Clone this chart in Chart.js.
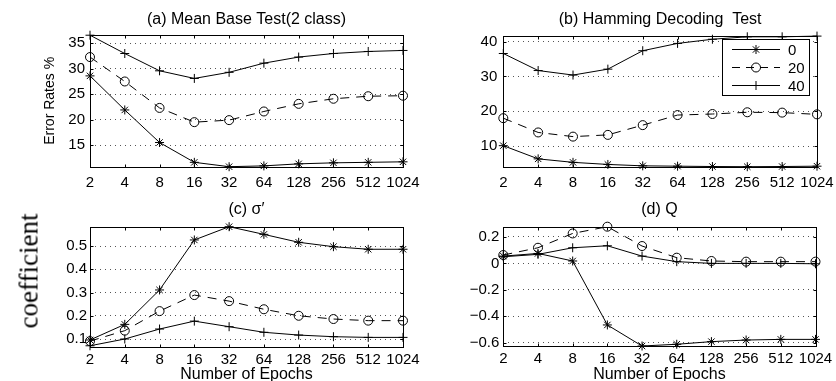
<!DOCTYPE html>
<html>
<head>
<meta charset="utf-8">
<script src="https://cdn.jsdelivr.net/npm/chart.js@4.4.0/dist/chart.umd.min.js"></script>
<style>
  html, body { margin: 0; padding: 0; background: #fff; overflow: hidden; }
  #fig { position: relative; width: 836px; height: 381px; overflow: hidden; }
  #fig canvas { position: absolute; }
  #coef {
    position: absolute; left: 29px; top: 271px;
    transform: translate(-50%, -50%) rotate(-90deg);
    font: 27px "Liberation Serif", "Times New Roman", serif;
    line-height: 1; white-space: nowrap; color: #000;
  }
</style>
</head>
<body>
<div id="fig">
  <canvas id="chartA" width="420" height="190" style="left:0;top:0"></canvas>
  <canvas id="chartB" width="420" height="190" style="left:416px;top:0"></canvas>
  <canvas id="chartC" width="420" height="194" style="left:0;top:190px"></canvas>
  <canvas id="chartD" width="420" height="194" style="left:416px;top:190px"></canvas>
  <div id="coef">coefficient</div>
</div>
<script>
const epochs = ["2", "4", "8", "16", "32", "64", "128", "256", "512", "1024"];
const noiseLevels = ["0", "20", "40"];

// (a) Mean Base Test (2 class), error rate %
const meanBase0 = [28.6, 21.9, 15.5, 11.6, 10.74, 10.9, 11.3, 11.5, 11.6, 11.7];
const meanBase20 = [32.3, 27.5, 22.3, 19.5, 19.9, 21.6, 23.1, 24.1, 24.6, 24.7];
const meanBase40 = [36.6, 33.0, 29.6, 28.1, 29.3, 31.1, 32.3, 33.0, 33.4, 33.6];
const meanBaseRange = [10.74, 36.64];
const meanBaseTicks = [15, 20, 25, 30, 35];
const meanBaseTickLabels = ["15", "20", "25", "30", "35"];

// (b) Hamming Decoding Test, error rate %
const hamming0 = [10.1, 6.3, 5.3, 4.7, 4.3, 4.2, 4.1, 4.05, 4.1, 4.2];
const hamming20 = [18.0, 13.9, 12.7, 13.2, 16.0, 18.9, 19.2, 19.7, 19.6, 19.1];
const hamming40 = [36.6, 31.7, 30.4, 32.1, 37.4, 39.5, 40.7, 41.4, 41.4, 41.6];
const hammingRange = [4.05, 41.63];
const hammingTicks = [10, 20, 30, 40];
const hammingTickLabels = ["10", "20", "30", "40"];

// (c) sigma' coefficient
const sigma0 = [0.096, 0.163, 0.311, 0.526, 0.583, 0.55, 0.516, 0.497, 0.486, 0.486];
const sigma20 = [0.091, 0.136, 0.22, 0.289, 0.263, 0.228, 0.2, 0.186, 0.179, 0.179];
const sigma40 = [0.071, 0.1, 0.143, 0.177, 0.153, 0.129, 0.117, 0.11, 0.107, 0.107];
const sigmaRange = [0.067, 0.583];
const sigmaTicks = [0.1, 0.2, 0.3, 0.4, 0.5];
const sigmaTickLabels = ["0.1", "0.2", "0.3", "0.4", "0.5"];

// (d) Q coefficient
const q0 = [0.055, 0.075, 0.018, -0.465, -0.624, -0.611, -0.591, -0.579, -0.574, -0.574];
const q20 = [0.063, 0.118, 0.226, 0.277, 0.131, 0.043, 0.018, 0.013, 0.013, 0.013];
const q40 = [0.05, 0.068, 0.118, 0.133, 0.055, 0.013, 0.0, 0.0, 0.0, -0.003];
const qRange = [-0.624, 0.277];
const qTicks = [-0.6, -0.4, -0.2, 0, 0.2];
const qTickLabels = ["\u22120.6", "\u22120.4", "\u22120.2", "0", "0.2"];

const FONT = "'Liberation Sans', Arial, Helvetica, sans-serif";
const markerStyles = ["star", "circle", "cross"];
const lineDashes = [[], [9, 7], []];

function drawMarker(ctx, style, x, y, r) {
  ctx.beginPath();
  if (style === "circle") {
    ctx.arc(x, y, r, 0, Math.PI * 2);
  } else {
    ctx.moveTo(x - r, y); ctx.lineTo(x + r, y);
    ctx.moveTo(x, y - r); ctx.lineTo(x, y + r);
    if (style === "star") {
      const d = r * Math.SQRT1_2;
      ctx.moveTo(x - d, y - d); ctx.lineTo(x + d, y + d);
      ctx.moveTo(x - d, y + d); ctx.lineTo(x + d, y - d);
    }
  }
  ctx.stroke();
}

// matlab style box with small inward ticks
const axesBox = {
  id: "axesBox",
  beforeDatasetsDraw(chart) {
    const { ctx, chartArea: a, scales } = chart;
    const l = Math.round(a.left) + 0.5, r = Math.round(a.right) + 0.5;
    const t = Math.round(a.top) + 0.5, b = Math.round(a.bottom) + 0.5;
    ctx.save();
    ctx.strokeStyle = "#000";
    ctx.lineWidth = 1;
    ctx.beginPath();
    scales.x.ticks.forEach((_, i) => {
      const x = Math.round(scales.x.getPixelForTick(i)) + 0.5;
      ctx.moveTo(x, b); ctx.lineTo(x, b - 3);
      ctx.moveTo(x, t); ctx.lineTo(x, t + 3);
    });
    scales.y.ticks.forEach((tk) => {
      const y = Math.round(scales.y.getPixelForValue(tk.value)) + 0.5;
      ctx.moveTo(l, y); ctx.lineTo(l + 3, y);
      ctx.moveTo(r, y); ctx.lineTo(r - 3, y);
    });
    ctx.stroke();
    ctx.strokeRect(l, t, r - l, b - t);
    ctx.restore();
  },
};

// legend box inside panel (b)
const boxLegend = {
  id: "boxLegend",
  afterDatasetsDraw(chart) {
    const { ctx } = chart;
    const bx = 306.5, by = 39.5, bw = 87, bh = 56;
    ctx.save();
    ctx.fillStyle = "#fff";
    ctx.fillRect(bx, by, bw, bh);
    ctx.strokeStyle = "#000";
    ctx.lineWidth = 1;
    ctx.strokeRect(bx, by, bw, bh);
    ctx.font = "15px " + FONT;
    ctx.fillStyle = "#000";
    ctx.textBaseline = "middle";
    noiseLevels.forEach((lbl, i) => {
      const y = 49.5 + i * 18;
      ctx.setLineDash(i === 1 ? [8, 6] : []);
      ctx.beginPath();
      ctx.moveTo(316, y); ctx.lineTo(364, y);
      ctx.stroke();
      ctx.setLineDash([]);
      drawMarker(ctx, markerStyles[i], 340, y, 4.5);
      ctx.fillText(lbl, 372, y + 1);
    });
    ctx.restore();
  },
};

function buildChart(id, cfg) {
  const canvas = document.getElementById(id);
  const W = canvas.width, H = canvas.height;
  const L = cfg.area;
  const datasets = cfg.series.map((vals, i) => ({
    label: noiseLevels[i],
    data: vals,
    borderColor: "#000",
    backgroundColor: "rgba(0,0,0,0)",
    borderWidth: 1,
    borderDash: lineDashes[i],
    pointStyle: markerStyles[i],
    pointRadius: 4.5,
    pointBorderWidth: 1,
    pointBorderColor: "#000",
    pointBackgroundColor: "rgba(0,0,0,0)",
    tension: 0,
    clip: false,
  }));

  return new Chart(canvas, {
    type: "line",
    data: { labels: epochs, datasets },
    plugins: cfg.legend ? [axesBox, boxLegend] : [axesBox],
    options: {
      responsive: false,
      animation: false,
      devicePixelRatio: 1,
      events: [],
      layout: { padding: { left: 0, top: 0, bottom: 0, right: W - L.right } },
      scales: {
        x: {
          offset: false,
          grid: { display: false, drawTicks: false },
          border: { display: false },
          ticks: {
            autoSkip: false,
            maxRotation: 0,
            minRotation: 0,
            padding: cfg.xPad,
            color: "#000",
            font: { family: FONT, size: 15 },
          },
          title: {
            display: !!cfg.xTitle,
            text: cfg.xTitle || "",
            color: "#000",
            font: { family: FONT, size: 16 },
            padding: { top: 0, bottom: 0 },
          },
          afterFit(scale) {
            scale.height = H - L.bottom;
            scale.paddingLeft = 0;
            scale.paddingRight = 0;
          },
        },
        y: {
          min: cfg.range[0],
          max: cfg.range[1],
          afterBuildTicks(scale) {
            scale.ticks = cfg.ticks.map((v) => ({ value: v }));
          },
          grid: { color: "#555", drawTicks: false },
          border: { display: false, dash: [1, 4] },
          ticks: {
            padding: cfg.yPad,
            color: "#000",
            font: { family: FONT, size: 15 },
            callback: (v, i) => cfg.tickLabels[i],
          },
          title: {
            display: !!cfg.yTitle,
            text: cfg.yTitle || "",
            color: "#000",
            font: { family: FONT, size: 14 },
            padding: { top: 42, bottom: 0 },
          },
          afterFit(scale) {
            scale.width = L.left;
            scale.paddingTop = 0;
            scale.paddingBottom = 0;
          },
        },
      },
      plugins: {
        legend: { display: false },
        tooltip: { enabled: false },
        title: {
          display: true,
          text: cfg.title,
          fullSize: false,
          color: "#000",
          font: { family: FONT, size: 16, weight: "normal", lineHeight: 1.2 },
          padding: { top: 10.4, bottom: L.top - 10.4 - 19.2 },
        },
      },
    },
  });
}

buildChart("chartA", {
  title: "(a) Mean Base Test(2 class)",
  series: [meanBase0, meanBase20, meanBase40],
  range: meanBaseRange,
  ticks: meanBaseTicks,
  tickLabels: meanBaseTickLabels,
  yTitle: "Error Rates %",
  area: { left: 90, right: 403, top: 35, bottom: 166.7 },
  xPad: 7,
  yPad: 5,
});

buildChart("chartB", {
  title: "(b) Hamming Decoding  Test",
  series: [hamming0, hamming20, hamming40],
  range: hammingRange,
  ticks: hammingTicks,
  tickLabels: hammingTickLabels,
  legend: true,
  area: { left: 87.3, right: 401, top: 36, bottom: 166.7 },
  xPad: 7,
  yPad: 6,
});

buildChart("chartC", {
  title: "(c) \u03c3\u2032",
  series: [sigma0, sigma20, sigma40],
  range: sigmaRange,
  ticks: sigmaTicks,
  tickLabels: sigmaTickLabels,
  xTitle: "Number of Epochs",
  area: { left: 90, right: 403, top: 36.7, bottom: 156.7 },
  xPad: 4,
  yPad: 3,
});

buildChart("chartD", {
  title: "(d) Q",
  series: [q0, q20, q40],
  range: qRange,
  ticks: qTicks,
  tickLabels: qTickLabels,
  xTitle: "Number of Epochs",
  area: { left: 87.3, right: 399.5, top: 36.7, bottom: 156 },
  xPad: 4,
  yPad: 4,
});
</script>
</body>
</html>
